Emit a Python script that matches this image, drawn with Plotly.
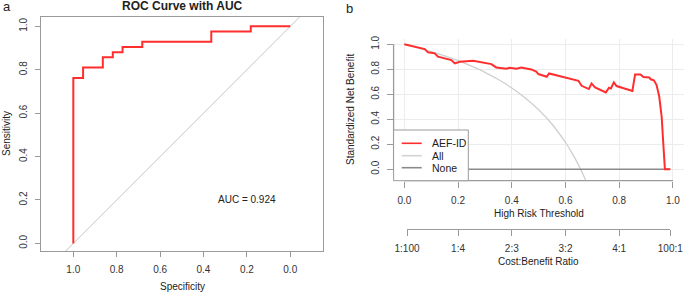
import plotly.graph_objects as go

# ---------------- data ----------------
# Panel a: ROC curve (step vertices)
roc_spec = [1.0, 1.0, 0.955, 0.864, 0.818, 0.773, 0.682, 0.364, 0.182, 0.0]
roc_sens = [0.0, 0.762, 0.810, 0.857, 0.881, 0.905, 0.929, 0.976, 1.0, 1.0]
chance_spec = [1.2, -0.2]
chance_sens = [-0.2, 1.2]
auc_label = "AUC = 0.924"
roc_ticks = [1.0, 0.8, 0.6, 0.4, 0.2, 0.0]

# Panel b: decision curve
dca_thr = [0, 0.076, 0.088, 0.113, 0.125, 0.175, 0.188, 0.206, 0.256, 0.293,
           0.324, 0.342, 0.380, 0.392, 0.417, 0.435, 0.473, 0.491, 0.499, 0.53,
           0.539, 0.648, 0.66, 0.687, 0.697, 0.71, 0.75, 0.762, 0.769, 0.780,
           0.79, 0.849, 0.859, 0.879, 0.89, 0.912, 0.917, 0.929, 0.939, 0.949,
           0.958, 0.964, 0.97, 0.99]
dca_model = [1.0, 0.962, 0.936, 0.928, 0.901, 0.874, 0.847, 0.861, 0.869, 0.855,
             0.842, 0.815, 0.805, 0.813, 0.805, 0.815, 0.799, 0.781, 0.762, 0.74,
             0.767, 0.708, 0.668, 0.642, 0.687, 0.655, 0.615, 0.652, 0.647, 0.695,
             0.666, 0.627, 0.759, 0.759, 0.738, 0.735, 0.72, 0.712, 0.674, 0.58,
             0.42, 0.206, 0.0, 0.0]
all_thr = [0, 0.05, 0.1, 0.15, 0.2, 0.25, 0.3, 0.35, 0.4, 0.45, 0.5, 0.55,
           0.6, 0.625, 0.65, 0.675, 0.7]
all_nb = [1.0, 0.972, 0.942, 0.908, 0.869, 0.825, 0.776, 0.718, 0.651, 0.571,
          0.476, 0.360, 0.214, 0.127, 0.027, -0.088, -0.222]
none_thr = [0, 0.99]
none_nb = [0, 0]
dca_ticks = [0.0, 0.2, 0.4, 0.6, 0.8, 1.0]
ratio_thr = [0.0099, 0.2, 0.4, 0.6, 0.8, 0.9901]
ratio_labels = ["1:100", "1:4", "2:3", "3:2", "4:1", "100:1"]
legend_names = ["AEF-ID", "All", "None"]

# ---------------- styling ----------------
W, H = 685, 295
FONT = "Liberation Sans, Arial, sans-serif"
RED = "#FF2E2E"
AXC = "#9a9a9a"
TXT = "#333333"


def px(x):
    return x / W


def py(y):
    return 1 - y / H


fig = go.Figure()

# Panel a
fig.add_trace(go.Scatter(x=chance_spec, y=chance_sens, mode="lines",
                         line=dict(color="#c4c4c4", width=1), xaxis="x", yaxis="y",
                         hoverinfo="skip", showlegend=False))
fig.add_trace(go.Scatter(x=roc_spec, y=roc_sens, mode="lines",
                         line=dict(color=RED, width=2, shape="hv"), xaxis="x", yaxis="y",
                         showlegend=False))

# Panel b
fig.add_trace(go.Scatter(x=all_thr, y=all_nb, mode="lines",
                         line=dict(color="#cfcfcf", width=1.3, shape="spline"),
                         xaxis="x2", yaxis="y2", showlegend=False))
fig.add_trace(go.Scatter(x=none_thr, y=none_nb, mode="lines",
                         line=dict(color="#8a8a8a", width=1.5),
                         xaxis="x2", yaxis="y2", showlegend=False))
fig.add_trace(go.Scatter(x=dca_thr, y=dca_model, mode="lines",
                         line=dict(color=RED, width=2),
                         xaxis="x2", yaxis="y2", showlegend=False))
# carrier for cost:benefit axis
fig.add_trace(go.Scatter(x=ratio_thr, y=[0] * len(ratio_thr), mode="markers",
                         marker=dict(opacity=0), xaxis="x3", yaxis="y3",
                         hoverinfo="skip", showlegend=False))

tickfont = dict(family=FONT, size=10, color=TXT)

# main x-scale of panel b in pixels
b_left, b_right = 393.6, 683.7
b_x0 = b_left + 0.04 / 1.08 * (b_right - b_left)
b_unit = (b_right - b_left) / 1.08

common = dict(automargin=False, zeroline=False, tickfont=tickfont,
              ticklabelstandoff=4, tickcolor=AXC, tickwidth=1.2, ticks="outside")

fig.update_layout(
    width=W, height=H,
    margin=dict(l=0, r=0, t=0, b=0, autoexpand=False),
    paper_bgcolor="white", plot_bgcolor="white",
    font=dict(family=FONT, size=10, color=TXT),
    xaxis=dict(domain=[px(41), px(323)], range=[1.149, -0.151], anchor="y",
               tickvals=roc_ticks, tickformat=".1f", showline=True, mirror=True,
               linecolor=AXC, linewidth=1.3, ticklen=5, showgrid=False, **common),
    yaxis=dict(domain=[py(251), py(17)], range=[-0.035, 1.043], anchor="x",
               tickvals=roc_ticks, tickformat=".1f", tickangle=-90, showline=True,
               mirror=True, linecolor=AXC, linewidth=1.3, ticklen=5, showgrid=False,
               **common),
    xaxis2=dict(domain=[px(b_left), px(b_right)], range=[-0.04, 1.04], anchor="y2",
                tickvals=dca_ticks, tickformat=".1f", showline=False, ticklen=6,
                showgrid=True, gridcolor="#ececec", gridwidth=1, **common),
    yaxis2=dict(domain=[py(180.7), py(39.1)], range=[-0.092, 1.042], anchor="x2",
                tickvals=dca_ticks, tickformat=".1f", tickangle=-90, showline=False,
                ticklen=6, showgrid=True, gridcolor="#ececec", gridwidth=1, **common),
    xaxis3=dict(domain=[px(b_x0 + ratio_thr[0] * b_unit), px(b_x0 + ratio_thr[-1] * b_unit)],
                range=[ratio_thr[0], ratio_thr[-1]], anchor="y3",
                tickvals=ratio_thr, ticktext=ratio_labels, showline=True,
                linecolor=AXC, linewidth=1.3, ticklen=6, showgrid=False, **common),
    yaxis3=dict(domain=[py(229.3), py(215)], range=[0, 1], anchor="x3", visible=False,
                automargin=False),
)

# panel b axis lines (span 0..1 as in base R)
fig.add_shape(type="line", xref="x2", yref="y2 domain", x0=0, x1=1, y0=0, y1=0,
              line=dict(color=AXC, width=1.3))
fig.add_shape(type="line", xref="x2 domain", yref="y2", x0=0, x1=0, y0=0, y1=1,
              line=dict(color=AXC, width=1.3))

# manual R-style legend
fig.add_shape(type="rect", xref="paper", yref="paper",
              x0=px(393.6), x1=px(468.3), y0=py(180.7), y1=py(130),
              fillcolor="white", line=dict(color=AXC, width=1))
legend_colors = [RED, "#d3d3d3", "#8a8a8a"]
legend_rows = [143.3, 155.7, 167.7]
for name, col, ry in zip(legend_names, legend_colors, legend_rows):
    fig.add_shape(type="line", xref="paper", yref="paper",
                  x0=px(401.7), x1=px(421.7), y0=py(ry), y1=py(ry),
                  line=dict(color=col, width=1.6))
    fig.add_annotation(text=name, xref="paper", yref="paper", x=px(429.5), y=py(ry),
                       xanchor="left", yanchor="middle", showarrow=False,
                       font=dict(family=FONT, size=10.5, color="#222"))

def ann(text, x, y, size=10, angle=0, bold=False):
    fig.add_annotation(text=f"<b>{text}</b>" if bold else text, xref="paper", yref="paper",
                       x=px(x), y=py(y), xanchor="center", yanchor="middle",
                       showarrow=False, textangle=angle,
                       font=dict(family=FONT, size=size, color="#222"))

ann("ROC Curve with AUC", 182, 6, size=12, bold=True)
ann("a", 6.5, 6.5, size=13)
ann("Sensitivity", 7, 134, angle=-90)
ann("Specificity", 182, 286.5)
ann("b", 349.5, 8, size=13)
ann("Standardized Net Benefit", 350, 110, angle=-90)
ann("High Risk Threshold", 538.6, 213.3)
ann("Cost:Benefit Ratio", 538.6, 261.7)

fig.add_annotation(text=auc_label, xref="x", yref="y", x=0.2, y=0.2,
                   xanchor="center", yanchor="middle", showarrow=False,
                   font=dict(family=FONT, size=10, color="#222"))

fig.write_html("out.html",
               config={"displayModeBar": False},
               post_script="document.body.style.margin='0';"
                           "document.body.style.overflow='hidden';")
